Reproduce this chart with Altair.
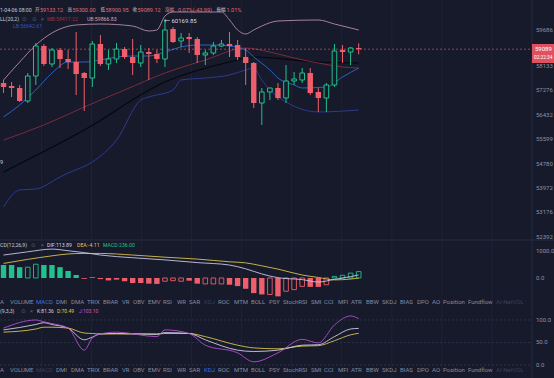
import altair as alt
import pandas as pd

# ---------------- data ----------------
idx = list(range(45))
opens = [57886, 57781, 57710, 57255, 58133, 59204, 58559, 59060, 58738, 58630, 58239, 58062, 59276, 58559, 58738,
         59096, 58809, 58595, 58988, 58917, 58738, 59820, 59385, 59529, 59457, 58881, 58953, 59204, 59276, 59240,
         58809, 58595, 57186, 57570, 57710, 57360, 57957, 57992, 58239, 57570, 57360, 57816, 59060, 58988, 59133.12]
highs = [57992, 57921, 57816, 58239, 59312, 59276, 59132, 59132, 59060, 59711, 58275, 59385, 59602, 59060, 59312,
         59168, 59457, 59240, 59132, 59060, 60169.85, 59893, 59675, 59675, 59529, 59060, 59349, 59421, 59711, 59421,
         59132, 58630, 57710, 57710, 57886, 58523, 58275, 58417, 58417, 57710, 57886, 59276, 59240, 59168, 59300.00]
lows = [57535, 57395, 57221, 57186, 57816, 58488, 58452, 58417, 58381, 57465, 56909, 57745, 58488, 58346, 58595,
        58738, 58168, 58452, 57992, 58595, 58452, 59312, 59168, 58953, 58595, 58523, 58881, 59168, 58809, 58702,
        57816, 57013, 56425, 57290, 57290, 57186, 57816, 57886, 57465, 56874, 56874, 57745, 58595, 58523, 58900.95]
closes = [57745, 57710, 57255, 58133, 59204, 58559, 59060, 58738, 58630, 58204, 58062, 59276, 58559, 58738, 59096,
          58809, 58595, 58988, 58917, 58738, 59784, 59349, 59493, 59457, 58881, 58953, 59204, 59276, 59204, 58809,
          58595, 57186, 57570, 57710, 57360, 57957, 58027, 58239, 57535, 57360, 57816, 59024, 58988, 59132, 59089.12]

boll_up_i = [0, 2, 4, 6, 9, 12, 16, 18, 19, 20, 21, 23, 27, 28, 29, 30, 31, 32, 34, 39, 41, 44]
boll_up = [57992, 58630, 59240, 59675, 59966, 60002, 59929, 59747, 59784, 60295, 60442, 60442, 60442, 60149,
           59784, 59638, 59784, 59929, 60112, 60149, 60002, 59784]
boll_mid_i = [0, 5, 10, 15, 20, 25, 30, 33, 36, 39, 42, 44]
boll_mid = [55912, 56425, 57046, 57640, 58239, 58702, 59132, 58988, 58773, 58595, 58452, 58417]
boll_low_i = [0, 2, 4, 7, 8, 11, 14, 17, 18, 21, 22, 25, 28, 30, 31, 32, 33, 35, 39, 44]
boll_low = [53679, 54238, 54269, 54667, 54800, 55168, 55912, 57290, 57395, 57640, 57992, 58062, 58168, 58346,
            58417, 57992, 57640, 57221, 56874, 56942]
ma_long_i = [0, 10, 20, 28, 31, 39, 44]
ma_long = [54834, 56254, 57921, 58630, 58809, 58630, 58595]
ma_short_i = [0, 2, 4, 6, 8, 10, 12, 14, 16, 18, 20, 22, 24, 26, 28, 30, 31, 33, 34, 36, 37, 40, 42, 44]
ma_short = [56700, 57116, 57640, 58239, 58630, 58630, 58702, 58809, 58845, 58845, 58988, 59168, 59240, 59240,
            59204, 59060, 58809, 58346, 58062, 57816, 57710, 57745, 58098, 58417]

macd_hist = [480, 480, 400, 400, 510, 480, 480, 400, 260, 110, -30, 30, -40, -90, -60, -120, -185, -185, -210,
             -220, -120, -100, -120, -100, -210, -220, -220, -220, -250, -300, -400, -560, -610, -610, -680, -490,
             -430, -310, -330, -330, -250, 60, 100, 180, 236]
macd_hollow = [0, 0, 0, 1, 1, 0, 0, 0, 0, 0, 0, 0, 0, 0, 0, 0, 0, 0, 0, 0, 1, 1, 1, 0, 0, 1, 1, 1, 0, 0,
               0, 0, 0, 1, 0, 1, 1, 1, 0, 0, 1, 1, 1, 1, 1]
dif_i = [0, 3, 6, 8, 10, 12, 16, 20, 24, 28, 30, 32, 34, 37, 39, 41, 43, 44]
dif = [850, 970, 1070, 1010, 940, 850, 750, 670, 570, 480, 340, 150, 10, -60, -150, -50, 50, 113.89]
dea_i = [0, 3, 6, 8, 10, 12, 16, 20, 24, 28, 30, 32, 34, 37, 39, 41, 43, 44]
dea = [540, 690, 820, 890, 910, 910, 850, 770, 700, 600, 560, 450, 330, 110, 20, -70, -40, -4.11]

kdj_i = [0, 4, 5, 6, 8, 10, 11, 12, 14, 19, 20, 23, 25, 29, 31, 34, 37, 39, 41, 43, 44]
k_vals = [78, 90, 94, 90, 82, 56, 62, 69, 70, 68, 72, 70, 56, 33, 30, 33, 44, 45, 63, 80, 81.36]
d_vals = [73, 80, 84, 84, 82, 71, 70, 69, 69, 69, 70, 70, 63, 44, 38, 36, 42, 43, 54, 67, 70.49]
j_vals = [82, 100, 96, 92, 82, 33, 60, 69, 73, 63, 78, 70, 44, 27, 7, 27, 57, 49, 89, 109, 103.10]

price_ticks = [58133, 57276, 56432, 55599, 54780, 53972, 53176, 52392]
top_price = 59686
last_price = 59089.12
high_mark = 60169.85
macd_ticks = [1000, 0]
kdj_ticks = [100, 50, 0]
grid_i = [4.7, 10.9, 17.1, 23.3, 29.5, 35.7, 41.9, 48.1, 54.3, 60.5]

tabs = ["A", "VOLUME", "MACD", "DMI", "DMA", "TRIX", "BRAR", "VR", "OBV", "EMV", "RSI", "WR", "SAR", "KDJ",
        "ROC", "MTM", "BOLL", "PSY", "StochRSI", "SMI", "CCI", "MFI", "ATR", "BBW", "SKDJ", "BIAS", "DPO", "AO",
        "Position", "Fundflow", "AI-NetVOL"]

# ---------------- layout / style ----------------
tab_x = [0, 10, 36, 56, 71, 87, 103, 122, 133, 148, 163, 177, 189, 204, 218, 234, 251, 269, 283, 311, 324,
         338, 351, 366, 382, 400, 417, 432, 443, 468, 496]
BG = "#161a2b"
RED = "#ef5f6b"
GREEN = "#22c08d"
GREY = "#8d92a6"
FONT = "Roboto, 'Noto Sans CJK SC', sans-serif"
CJK = "'Noto Sans CJK SC', sans-serif"

X = alt.Scale(domain=[0.1825, 67.58], nice=False, zero=False)
PY = alt.Scale(type="log", domain=[48372, 60885], nice=False, zero=False)
MY = alt.Scale(domain=[-3704, 10296], nice=False, zero=False)
KY = alt.Scale(domain=[-28.9, 811.1], nice=False, zero=False)


def xq(f="i"):
    return alt.X(f + ":Q", scale=X, axis=None)


def txt(s, x, y, color, size=5.5, align="left", font=FONT):
    return alt.Chart(pd.DataFrame({"s": [s]})).mark_text(
        align=align, baseline="middle", fontSize=size, font=font, color=color
    ).encode(x=alt.value(x), y=alt.value(y), text="s:N")


def line(ix, vals, scale, color, width=1.0):
    df = pd.DataFrame({"i": ix, "v": vals})
    return alt.Chart(df).mark_line(color=color, strokeWidth=width, interpolate="monotone").encode(
        x=xq(), y=alt.Y("v:Q", scale=scale, axis=None))


def axis_labels(vals, scale, fmt, dy=0, color=GREY, x=536):
    return alt.Chart(pd.DataFrame({"v": vals})).mark_text(
        align="left", baseline="middle", fontSize=6, font=FONT, color=color, dy=dy).encode(
        x=alt.value(x), y=alt.Y("v:Q", scale=scale, axis=None), text=alt.Text("v:Q", format=fmt))


layers = []

# faint vertical grid + separators
gdf = pd.DataFrame({"g": grid_i})
layers.append(alt.Chart(gdf).mark_rule(color="#1e2235", strokeWidth=1).encode(
    x=xq("g"), y=alt.value(0), y2=alt.value(378)))
layers.append(alt.Chart(pd.DataFrame({"a": [0]})).mark_rule(color="#272b40").encode(
    x=alt.value(0), x2=alt.value(554), y=alt.value(240)))
layers.append(alt.Chart(pd.DataFrame({"a": [1]})).mark_rule(color="#272b40").encode(
    x=alt.value(532), y=alt.value(0), y2=alt.value(378)))

# KDJ dashed guide lines
layers.append(alt.Chart(pd.DataFrame({"v": kdj_ticks})).mark_rule(color="#2c3147", strokeDash=[2, 2]).encode(
    y=alt.Y("v:Q", scale=KY, axis=None), x=alt.value(0), x2=alt.value(532)))

# main overlay lines
layers.append(line(ma_long_i, ma_long, PY, "#06070b", 1.2))
layers.append(line(boll_low_i, boll_low, PY, "#2d3b8c", 1.0))
layers.append(line(boll_mid_i, boll_mid, PY, "#7a2b3d", 1.0))
layers.append(line(ma_short_i, ma_short, PY, "#2b62c4", 1.0))
layers.append(line(boll_up_i, boll_up, PY, "#a4819c", 1.0))

# current price dashed line
layers.append(alt.Chart(pd.DataFrame({"v": [last_price]})).mark_rule(
    color=RED, strokeDash=[2, 2], opacity=0.75, strokeWidth=0.8).encode(
    y=alt.Y("v:Q", scale=PY, axis=None), x=alt.value(0), x2=alt.value(532)))

# candles
cdf = pd.DataFrame({"i": idx, "o": opens, "h": highs, "l": lows, "c": closes})
cdf["top"] = cdf[["o", "c"]].max(axis=1)
cdf["bot"] = cdf[["o", "c"]].min(axis=1)
up = cdf[cdf.c >= cdf.o]
dn = cdf[cdf.c < cdf.o]
for d, col in ((up, GREEN), (dn, RED)):
    layers.append(alt.Chart(d).mark_rule(color=col, strokeWidth=1).encode(
        x=xq(), y=alt.Y("l:Q", scale=PY, axis=None), y2="h:Q"))
layers.append(alt.Chart(dn).mark_bar(width=5.4, color=RED).encode(
    x=xq(), y=alt.Y("bot:Q", scale=PY, axis=None), y2="top:Q"))
layers.append(alt.Chart(up).mark_bar(width=4.6, fill=BG, stroke=GREEN, strokeWidth=1).encode(
    x=xq(), y=alt.Y("bot:Q", scale=PY, axis=None), y2="top:Q"))

# MACD histogram
mdf = pd.DataFrame({"i": idx, "v": macd_hist, "h": macd_hollow})
mdf["z"] = 0
for pos, col in ((True, GREEN), (False, RED)):
    sub = mdf[(mdf.v >= 0) == pos]
    fil = sub[sub.h == 0]
    hol = sub[sub.h == 1]
    layers.append(alt.Chart(fil).mark_bar(width=5.4, color=col).encode(
        x=xq(), y=alt.Y("v:Q", scale=MY, axis=None), y2="z:Q"))
    layers.append(alt.Chart(hol).mark_bar(width=4.6, fill=BG, stroke=col, strokeWidth=0.9).encode(
        x=xq(), y=alt.Y("v:Q", scale=MY, axis=None), y2="z:Q"))
layers.append(line(dea_i, dea, MY, "#d8c24c", 0.9))
layers.append(line(dif_i, dif, MY, "#c9c5e6", 0.9))

# KDJ lines
layers.append(line(kdj_i, d_vals, KY, "#d8c24c", 0.9))
layers.append(line(kdj_i, k_vals, KY, "#cfcde6", 0.9))
layers.append(line(kdj_i, j_vals, KY, "#b44fcf", 0.9))

# right axis labels
layers.append(axis_labels(price_ticks, PY, ".0f", dy=-10))
layers.append(axis_labels([top_price], PY, ".0f", dy=-3))
layers.append(axis_labels(macd_ticks, MY, ".1f"))
layers.append(axis_labels(kdj_ticks, KY, ".1f"))

# price tag
layers.append(alt.Chart(pd.DataFrame({"a": [2]})).mark_rect(color="#e0515f").encode(
    x=alt.value(532), x2=alt.value(554), y=alt.value(44), y2=alt.value(63)))
layers.append(axis_labels([last_price], PY, ".0f", color="#ffffff", x=535))
layers.append(txt("02:22:34", 534, 58, "#ffffff", size=4.8))

# high marker
hdf = pd.DataFrame({"v": [high_mark], "s": ["← " + f"{high_mark:.2f}"]})
layers.append(alt.Chart(hdf).mark_text(
    align="left", baseline="middle", fontSize=6, font=FONT, color="#d9dbe6", dy=2).encode(
    x=alt.value(164), y=alt.Y("v:Q", scale=PY, axis=None), text="s:N"))

# header texts
RT = "#e16a74"
WT = "#c9ccd8"
IC = "#5d6279"
layers += [
    txt("1-04-06 08:00", 0, 10, WT, size=5.2),
    txt("开", 35, 10, WT, size=4.6, font=CJK), txt("59133.12", 40, 10, RT),
    txt("高", 67.5, 10, WT, size=4.6, font=CJK), txt("59300.00", 72.5, 10, RT),
    txt("低", 100.5, 10, WT, size=4.6, font=CJK), txt("58900.95", 105.5, 10, RT),
    txt("收", 132.5, 10, WT, size=4.6, font=CJK), txt("59089.12", 137.5, 10, RT),
    txt("涨幅", 165, 10, "#d98a9a", size=4.6, font=CJK), txt("0.07%(-43.99)", 178, 10, RT),
    txt("振幅", 216.5, 10, WT, size=4.6, font=CJK), txt("1.01%", 226.5, 10, RT),
    txt("LL(20,2)", 0, 19, WT, size=5.2),
    txt("⊙", 22, 19, IC, size=5.5, font="DejaVu Sans"), txt("⊙", 32, 19, IC, size=5.5, font="DejaVu Sans"),
    txt("×", 41, 19, IC),
    txt("MB:58417.22", 47, 19, "#9c3347", size=5.2),
    txt("UB:59866.83", 87, 19, "#d6a3bb", size=5.2),
    txt("LB:56942.61", 13, 26, "#3457b8", size=5.2),
    txt("9", 0, 162, WT),
    # MACD title
    txt("CD(12,26,9)", 0, 245, WT, size=5.2),
    txt("⊙", 31, 245, IC, size=5.5, font="DejaVu Sans"), txt("×", 41, 245, IC),
    txt("DIF:113.89", 47, 245, "#d5d3ea", size=5.2), txt("DEA:-4.11", 77, 245, "#e3c64a", size=5.2),
    txt("MACD:236.00", 103, 245, GREEN, size=5.2),
    # KDJ title
    txt("(9,3,3)", 0, 311, WT, size=5.2),
    txt("⊙", 21, 311, IC, size=5.5, font="DejaVu Sans"), txt("×", 30, 311, IC),
    txt("K:81.36", 37, 311, "#d5d3ea", size=5.0), txt("D:70.49", 57, 311, "#e3c64a", size=5.0),
    txt("J:103.10", 79, 311, "#c056d6", size=5.0),
]

# tab rows
for row_y, active, dim in ((302, "MACD", "KDJ"), (370, "KDJ", "MACD")):
    for name, x in zip(tabs, tab_x):
        if name == active:
            col = "#3f6fe6"
        elif name == dim or name == "AI-NetVOL":
            col = "#3b4058"
        else:
            col = "#868ba0"
        layers.append(txt(name, x, row_y, col, size=6))

chart = alt.layer(*layers).resolve_scale(y="independent").properties(
    width=554, height=378, autosize=alt.AutoSizeParams(type="none"), padding=0
).configure(background=BG).configure_view(strokeWidth=0)

chart.save("out.html", embed_options={"renderer": "svg", "actions": False})
